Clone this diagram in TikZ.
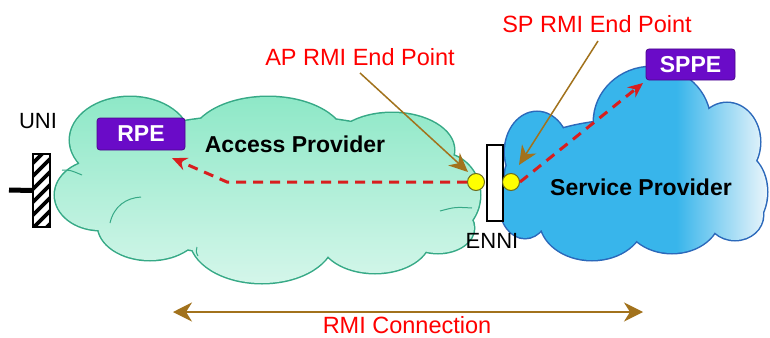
\documentclass[tikz,border=0pt]{standalone}
\usepackage{fontspec}
\setmainfont{Liberation Sans}
\usetikzlibrary{arrows.meta}

\definecolor{apgreen}{HTML}{8EE8C7}
\definecolor{aplight}{HTML}{D4F6EA}
\definecolor{apedge}{HTML}{36A986}
\definecolor{spblue}{HTML}{38B5EB}
\definecolor{splight}{HTML}{EAF5FB}
\definecolor{spedge}{HTML}{2B68BA}
\definecolor{peviolet}{HTML}{6A0BC8}
\definecolor{rmired}{HTML}{D81E1E}
\definecolor{callout}{HTML}{A2721C}
\definecolor{txtred}{HTML}{FF0000}
\definecolor{epyellow}{HTML}{FFFF00}
\definecolor{epedge}{HTML}{6B6B1E}

% horizontal fade of the service provider cloud (path box spans 25bp..75bp)
\pgfdeclarehorizontalshading{spshade}{100bp}{color(0bp)=(spblue); color(58bp)=(spblue); color(75bp)=(splight); color(100bp)=(splight)}

\tikzset{
  apcloud/.style={insert path={
    (265,185) ellipse [x radius=195, y radius=70]
    (130,140) ellipse [x radius=60, y radius=43]
    (268,142) ellipse [x radius=78, y radius=45]
    (392,150) ellipse [x radius=62, y radius=37]
    (440,195) ellipse [x radius=40, y radius=42]
    (100,195) ellipse [x radius=45, y radius=35]
    (150,225) ellipse [x radius=52, y radius=35]
    (262,238) ellipse [x radius=72, y radius=45]
    (375,238) ellipse [x radius=55, y radius=35]
    (438,228) ellipse [x radius=36, y radius=25]}},
  spcloud/.style={insert path={
    (630,175) ellipse [x radius=125, y radius=55]
    (652,122) ellipse [x radius=58, y radius=55]
    (537,152) ellipse [x radius=32, y radius=40]
    (727,142) ellipse [x radius=33, y radius=39]
    (737,192) ellipse [x radius=30, y radius=40]
    (592,220) ellipse [x radius=52, y radius=40]
    (672,215) ellipse [x radius=48, y radius=38]
    (525,205) ellipse [x radius=25, y radius=33]
    (735,215) ellipse [x radius=28, y radius=25]}},
  lbl/.style={inner sep=0pt, anchor=base, font=\fontsize{22}{26}\selectfont},
  redlbl/.style={lbl, text=txtred, font=\fontsize{23.5}{28}\selectfont},
  cloudlbl/.style={lbl, font=\fontsize{23}{28}\selectfont\bfseries},
  pebox/.style={fill=peviolet, draw=peviolet!70!black, line width=0.8pt,
    rounded corners=3pt, inner sep=0pt, text=white,
    font=\fontsize{23}{28}\selectfont\bfseries},
  endpoint/.style={circle, fill=epyellow, draw=epedge, line width=1pt,
    minimum size=17pt, inner sep=0pt},
  bar/.style={draw=black, line width=1.5pt, inner sep=0pt},
  rmipath/.style={rmired, line width=3pt, dash pattern=on 10pt off 7pt,
    -{Stealth[length=15pt, width=13pt, inset=5pt]}},
  callarrow/.style={callout, line width=1.5pt,
    -{Stealth[length=19pt, width=17pt, inset=6pt]}},
  spanarrow/.style={callout, line width=1.5pt,
    {Stealth[length=19pt, width=19pt, inset=6pt]}-{Stealth[length=19pt, width=19pt, inset=6pt]}},
  lobeline/.style={apedge, line width=1pt}
}

\begin{document}
\begin{tikzpicture}[x=1pt, y=-1pt]
\useasboundingbox[fill=white] (0,0) rectangle (770,337);

% access provider cloud: outline first, fill on top leaves the outer rim
\draw[apedge, line width=3pt, apcloud];
\shade[top color=apgreen, middle color=apgreen, bottom color=aplight, apcloud];
% inner lobe strokes
\draw[lobeline] (62,170) .. controls (70,170) .. (82,175);
\draw[lobeline] (110,223) .. controls (114,206) and (126,198) .. (141,197);
\draw[lobeline] (197,247) .. controls (196,252) .. (198,256);
\draw[lobeline] (440,211) .. controls (455,207) .. (472,208);

% service provider cloud
\draw[spedge, line width=3pt, spcloud];
\shade[shading=spshade, spcloud];

% UNI: hatched bar with attachment stub
\node[bar, minimum width=17pt, minimum height=73pt] (unibar) at (41.5,190.5) {};
\begin{scope}
  \clip (unibar.south west) rectangle (unibar.north east);
  \foreach \k in {150,163,...,280}
    \draw[line width=3.8pt] (20,\k) -- ++(40,-40);
\end{scope}
\node[bar, minimum width=17pt, minimum height=73pt] at (41.5,190.5) {};
\draw[line width=5pt] (9,190) -- (unibar.west);
\node[lbl] (unilbl) at (38,128) {UNI};

% ENNI: plain bar between the two clouds
\node[bar, fill=white, minimum width=16pt, minimum height=76pt] (ennibar) at (495,183) {};
\node[lbl] (ennilbl) at (492,248) {ENNI};

% cloud names
\node[cloudlbl] (aplbl) at (295,152) {Access Provider};
\node[cloudlbl] (splbl) at (641,195) {Service Provider};

% provider equipment boxes
\node[pebox, minimum width=88pt, minimum height=32pt] (rpe) at (141,134) {RPE};
\node[pebox, minimum width=89pt, minimum height=31pt] (sppe) at (690.5,64.5) {SPPE};

% RMI end points
\node[endpoint] (apep) at (476,182) {};
\node[endpoint] (spep) at (511,182) {};

% RMI paths
\coordinate (bend) at (227,182);
\coordinate (rpetip) at (172,158);
\coordinate (sppetip) at (643,83);
\draw[rmipath] (apep.west) -- (bend) -- (rpetip);
\draw[rmipath] (spep.east) -- (sppetip);

% end point callouts
\node[redlbl] (apname) at (360,65) {AP RMI End Point};
\node[redlbl] (spname) at (597,33) {SP RMI End Point};
\coordinate (aptip) at (468,172);
\coordinate (sptip) at (519,165);
\draw[callarrow] (360,73) -- (aptip);
\draw[callarrow] (598,41) -- (sptip);

% RMI connection span
\coordinate (spanL) at (173,312);
\coordinate (spanR) at (643,312);
\draw[spanarrow] (spanL) -- (spanR);
\node[redlbl] (spanlbl) at (407,333) {RMI Connection};
\end{tikzpicture}
\end{document}
